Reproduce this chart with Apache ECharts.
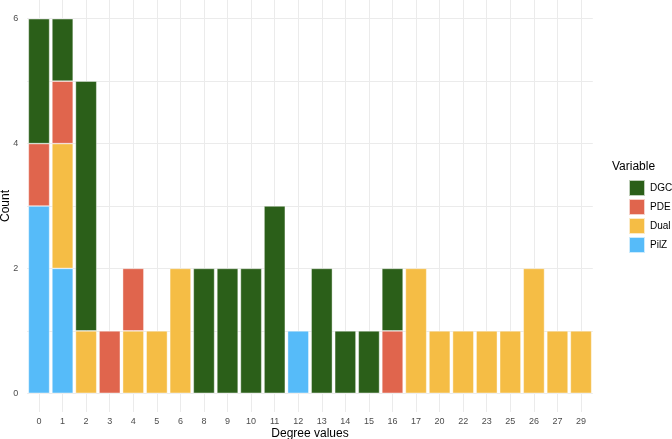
<!DOCTYPE html>
<html><head><meta charset="utf-8">
<script src="https://cdn.jsdelivr.net/npm/echarts@6/dist/echarts.min.js"></script>
<style>html,body{margin:0;padding:0;background:#fff}#c{width:672px;height:439px}</style>
</head><body><div id="c"></div>
<script>
const categories = ['0','1','2','3','4','5','6','8','9','10','11','12','13','14','15','16','17','20','22','23','25','26','27','29'];
const pilz = [3,2,0,0,0,0,0,0,0,0,0,1,0,0,0,0,0,0,0,0,0,0,0,0];
const dual = [0,2,1,0,1,1,2,0,0,0,0,0,0,0,0,0,2,1,1,1,1,2,1,1];
const pde  = [1,1,0,1,1,0,0,0,0,0,0,0,0,0,0,1,0,0,0,0,0,0,0,0];
const dgc  = [2,1,4,0,0,0,0,2,2,2,3,0,2,1,1,1,0,0,0,0,0,0,0,0];
const yTicks = [0,2,4,6];
const yGrid = [0,1,2,3,4,5,6];
const legendOrder = ['DGC','PDE','Dual','PilZ'];
const colors = {DGC:'#2B5F19', PDE:'#E0654D', Dual:'#F5BD45', PilZ:'#56BBF9'};

const chart = echarts.init(document.getElementById('c'), null, {renderer:'canvas'});
const z = v => v === 0 ? '-' : v;
function barSeries(name, arr){
  return {name, type:'bar', stack:'s', z:3, barCategoryGap:'10%',
    itemStyle:{color:colors[name], borderColor:'rgba(255,255,255,0.7)', borderWidth:0.6},
    data: arr.map(z)};
}
const gridLineStyle = {color:'#ebebeb', width:1, type:'solid'};
chart.setOption({
  animation:false,
  textStyle:{fontFamily:'Liberation Sans, Arial, sans-serif'},
  grid:{left:27.2, right:79.2, top:0, bottom:27, containLabel:false, outerBoundsMode:'none'},
  legend:{data:legendOrder, orient:'vertical', left:628, top:179, itemWidth:16, itemHeight:16, itemGap:1,
    icon:'rect', textStyle:{fontSize:10, color:'#000'}, selectedMode:false, padding:0},
  graphic:[{type:'text', left:612, top:161, style:{text:'Variable', fontSize:12, fill:'#000', fontFamily:'Liberation Sans, Arial, sans-serif'}}],
  xAxis:{type:'category', data:categories,
    name:'Degree values', nameLocation:'middle', nameGap:15.5, nameMoveOverlap:false, nameTextStyle:{fontSize:12, color:'#000'},
    axisLine:{show:false}, axisTick:{show:false}, splitLine:{show:false},
    axisLabel:{fontSize:9, color:'#4d4d4d', margin:5, interval:0}},
  yAxis:{type:'value', min:-0.3, max:6.3,
    name:'Count', nameLocation:'middle', nameGap:16, nameRotate:90, nameMoveOverlap:false, nameTextStyle:{fontSize:12, color:'#000'},
    axisLine:{show:false}, axisTick:{show:false}, splitLine:{show:false},
    axisLabel:{fontSize:9, color:'#4d4d4d', margin:9, customValues:yTicks}},
  series:[
    {type:'line', data:[], z:1, silent:true,
      markLine:{z:1, silent:true, symbol:'none', label:{show:false}, lineStyle:gridLineStyle, animation:false,
        data: yGrid.map(v=>({yAxis:v})).concat(categories.map(c=>({xAxis:c})))}},
    barSeries('PilZ', pilz),
    barSeries('Dual', dual),
    barSeries('PDE', pde),
    barSeries('DGC', dgc)
  ]
});
</script></body></html>
